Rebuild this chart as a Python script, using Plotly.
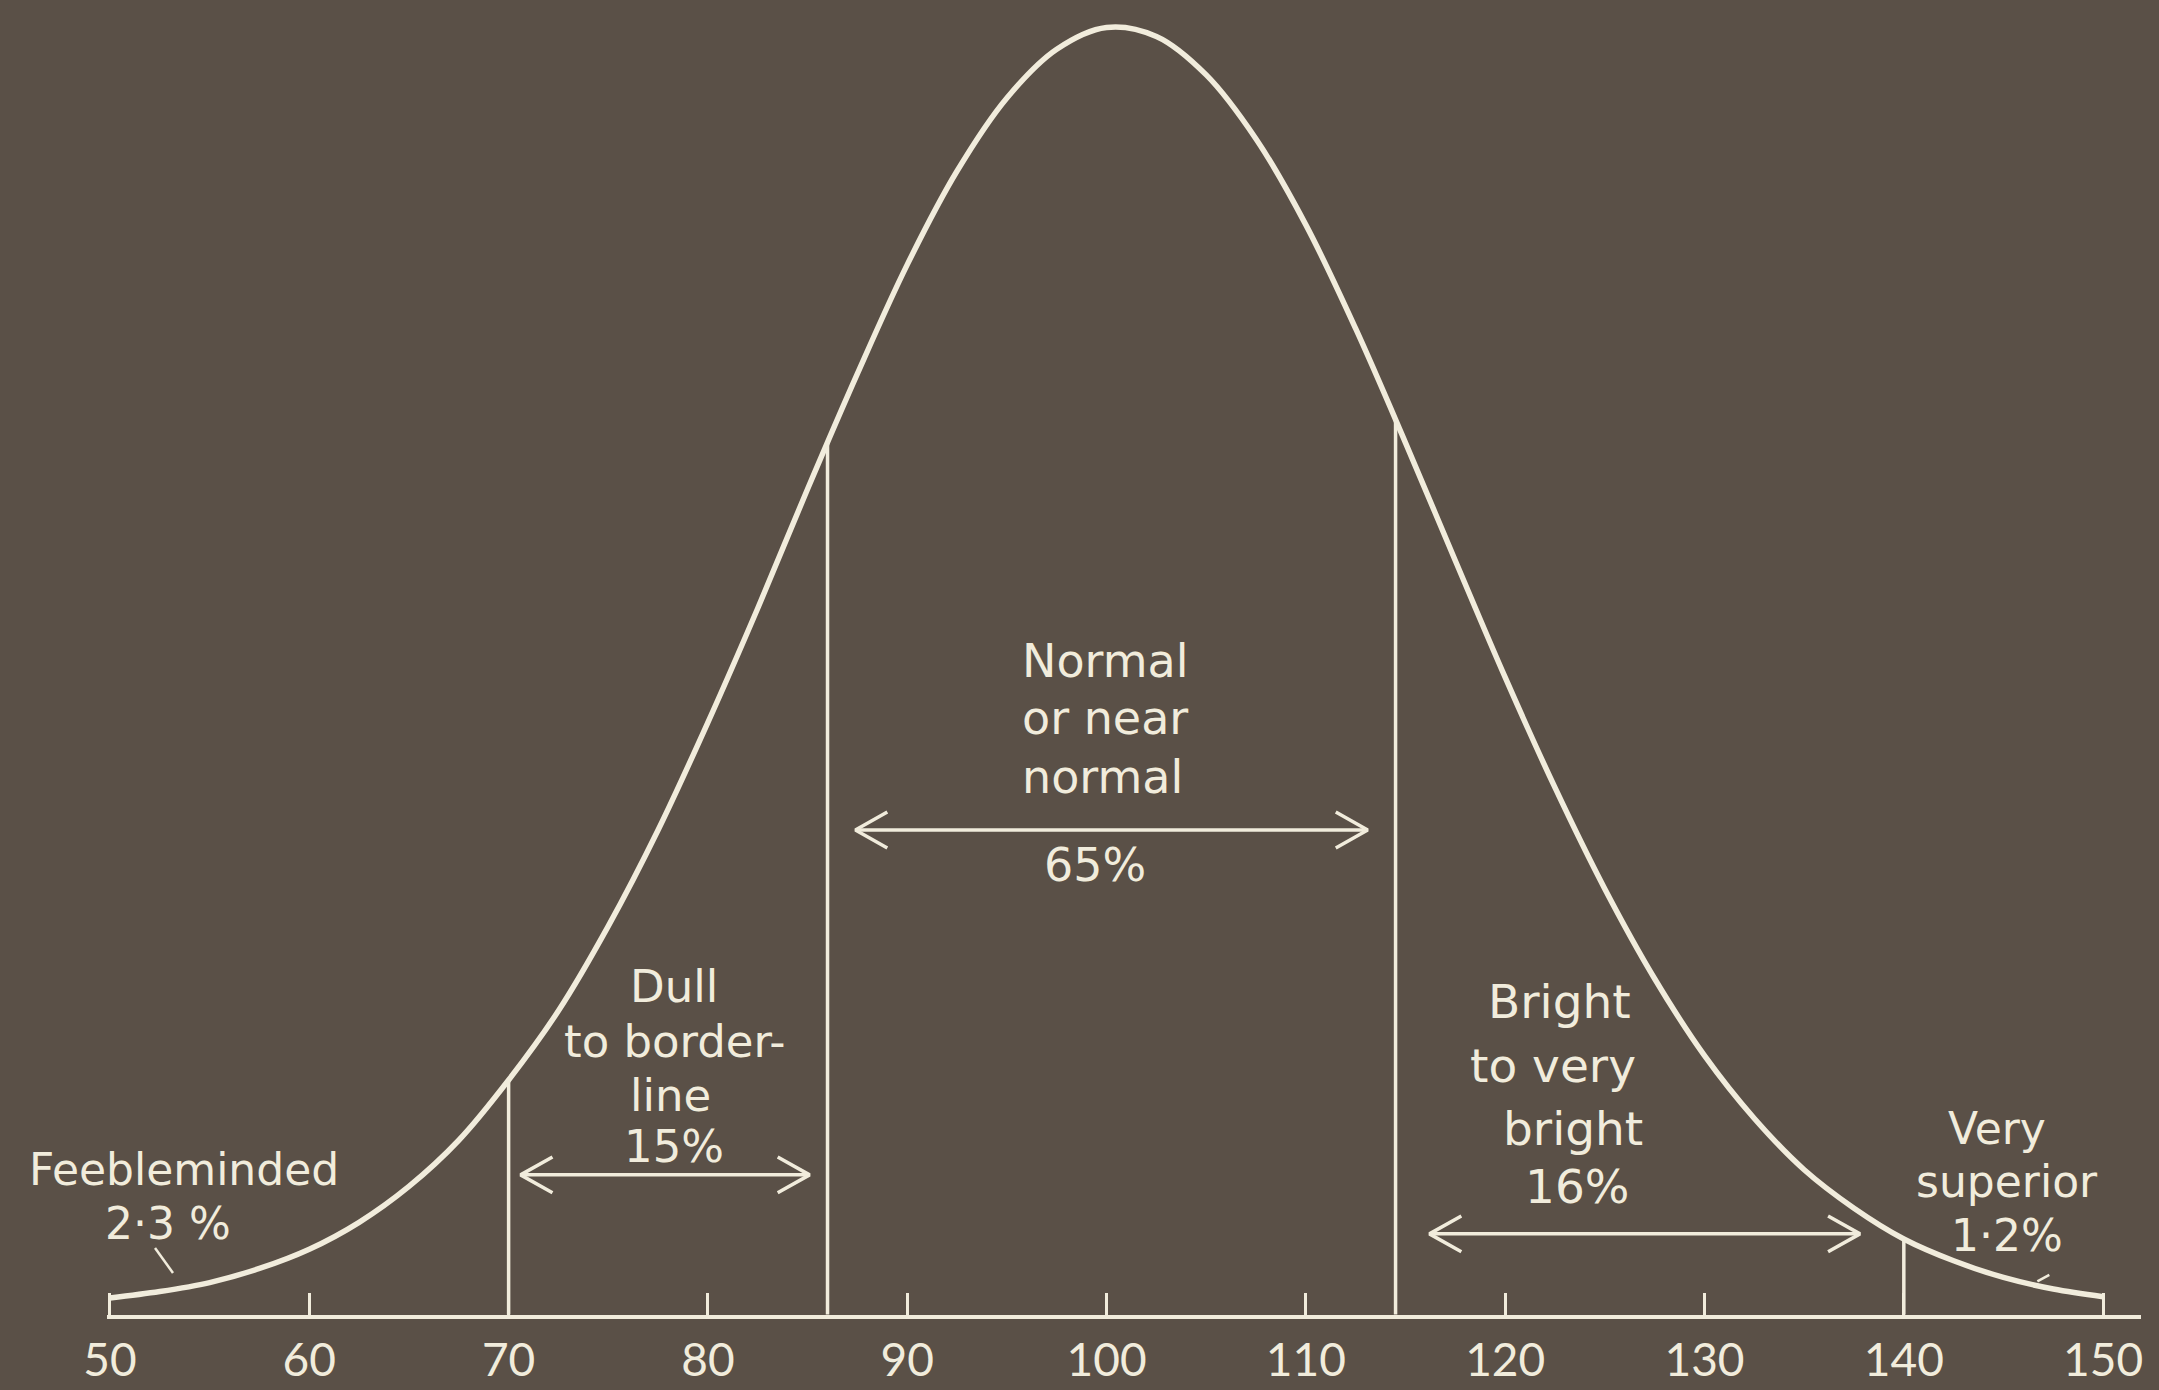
import numpy as np
import plotly.graph_objects as go

# ---------------- data ----------------
iq = [50, 52.5, 55, 57.5, 60, 62.5, 65, 67.5, 70, 72.5, 75, 77.5, 80, 82.5, 85,
      87.5, 90, 92.5, 95, 97.5, 100, 102.5, 105, 107.5, 110, 112.5, 115, 117.5,
      120, 122.5, 125, 127.5, 130, 132.5, 135, 137.5, 140, 142.5, 145, 147.5, 150]
freq = [0.9, 1.4, 2.1, 3.2, 4.7, 6.8, 9.6, 13.2, 17.9, 23.3, 29.9, 37.4, 45.8, 54.7, 64.0,
        73.0, 81.5, 88.8, 94.5, 98.3, 100.0, 99.3, 96.3, 91.3, 84.6, 76.5, 67.6, 58.4,
        49.3, 40.7, 32.8, 25.8, 19.8, 14.9, 10.9, 7.9, 5.5, 3.8, 2.5, 1.6, 1.0]

boundaries = [70, 86, 114.5, 140]
tick_values = [50, 60, 70, 80, 90, 100, 110, 120, 130, 140, 150]
tick_labels = ["50", "60", "70", "80", "90", "100", "110", "120", "130", "140", "150"]

# label lines: (text, x, y, size)
label_lines = [
    ("Normal", 99.9, 50.6, 46), ("or near", 99.9, 46.1, 46), ("normal", 99.8, 41.5, 46),
    ("65%", 99.4, 34.7, 46),
    ("Dull", 78.3, 25.2, 45), ("to border-", 78.3, 20.9, 45), ("line", 78.1, 16.7, 45),
    ("15%", 78.3, 12.7, 45),
    ("Bright", 122.7, 24.0, 47), ("to very", 122.4, 19.0, 47), ("bright", 123.4, 14.1, 47),
    ("16%", 123.6, 9.6, 47),
    ("Very", 144.7, 14.1, 44), ("superior", 145.2, 10.0, 44), ("1·2%", 145.2, 5.8, 44),
    ("Feebleminded", 53.7, 10.9, 44), ("2·3 %", 52.9, 6.7, 44),
]
# double arrows: (x_start, x_end, y)
arrows = [(70.6, 85.1, 10.5), (87.4, 113.1, 37.4), (116.2, 137.8, 5.9)]
# small pointer strokes: (x0, y0, x1, y1)
pointers = [(52.26, 4.8, 53.16, 2.85), (146.7, 2.2, 147.3, 2.7)]

# ---------------- styling ----------------
BG = "#5a5047"
INK = "#f1ecdc"
LABEL_FONT = "'DejaVu Sans', Lato, sans-serif"
TICK_FONT = "Lato, 'Liberation Sans', sans-serif"

fig = go.Figure()

# bell curve
fig.add_trace(go.Scatter(x=iq, y=freq, mode="lines",
                         line=dict(color=INK, width=5.5, shape="spline", smoothing=1.0),
                         hoverinfo="skip", showlegend=False))

# vertical boundary lines up to the curve
for b in boundaries:
    top = float(np.interp(b, iq, freq))
    fig.add_trace(go.Scatter(x=[b, b], y=[-0.4, top], mode="lines",
                             line=dict(color=INK, width=3.5),
                             hoverinfo="skip", showlegend=False))

# double-headed arrows with open chevron heads
hl, hh = 1.6, 1.4
for x0, x1, y in arrows:
    xs = [x0, x1, None,
          x0 + hl, x0, x0 + hl, None,
          x1 - hl, x1, x1 - hl]
    ys = [y, y, None,
          y + hh, y, y - hh, None,
          y + hh, y, y - hh]
    fig.add_trace(go.Scatter(x=xs, y=ys, mode="lines",
                             line=dict(color=INK, width=3.5),
                             hoverinfo="skip", showlegend=False))

# pointer strokes
for x0, y0, x1, y1 in pointers:
    fig.add_trace(go.Scatter(x=[x0, x1], y=[y0, y1], mode="lines",
                             line=dict(color=INK, width=2.5),
                             hoverinfo="skip", showlegend=False))

# labels
for text, x, y, size in label_lines:
    fig.add_annotation(x=x, y=y, text=text, showarrow=False,
                       xanchor="center", yanchor="middle", borderpad=0,
                       font=dict(family=LABEL_FONT, size=size, color=INK))

fig.update_layout(
    width=2159, height=1390,
    margin=dict(l=107, r=18, t=0, b=75),
    paper_bgcolor=BG, plot_bgcolor=BG,
    showlegend=False,
    xaxis=dict(range=[49.85, 151.9], tickvals=tick_values, ticktext=tick_labels,
               showgrid=False, zeroline=False, showline=True, linecolor=INK, linewidth=4,
               ticks="inside", ticklen=22, tickwidth=2.5, tickcolor=INK,
               ticklabelstandoff=2,
               tickfont=dict(family=TICK_FONT, size=46, color=INK)),
    yaxis=dict(range=[-0.43, 102.14], visible=False, showgrid=False, zeroline=False),
)

fig.write_html("out.html",
               config={"displayModeBar": False},
               post_script="document.body.style.margin='0px';"
                           "document.body.style.background='" + BG + "';")
